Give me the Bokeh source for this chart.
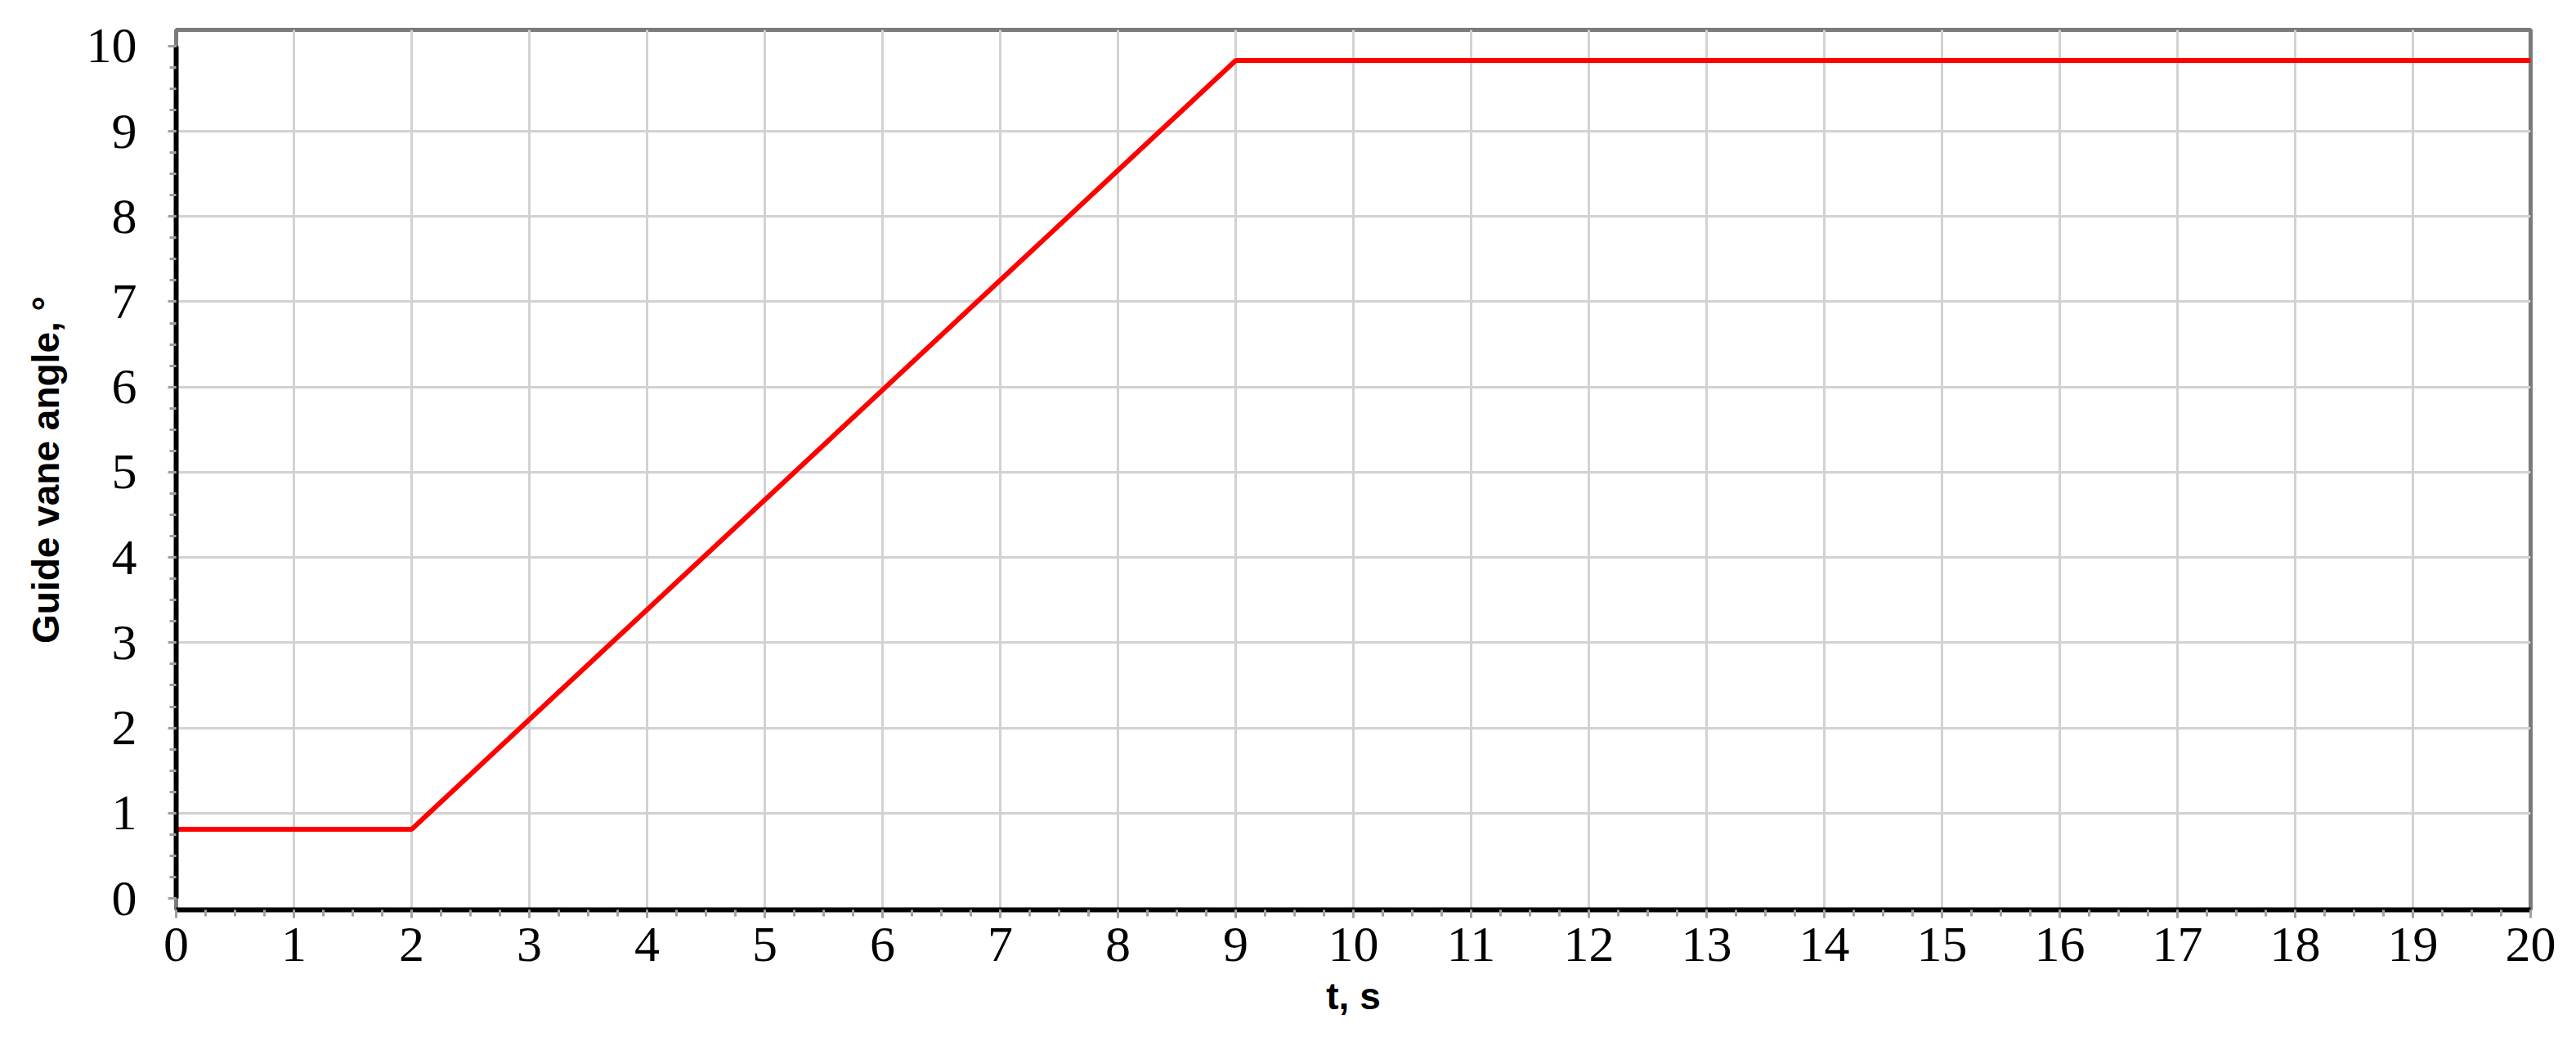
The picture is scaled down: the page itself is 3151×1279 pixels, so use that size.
from bokeh.plotting import figure
from bokeh.models import Range1d, FixedTicker
from bokeh.embed import file_html
from bokeh.resources import INLINE

# Data
t_s = [0, 2, 9, 20]
guide_vane_angle = [0.81, 0.81, 9.83, 9.83]

x_ticks = list(range(0, 21))
y_ticks = list(range(0, 11))
x_minor = [i * 0.25 for i in range(0, 81)]
y_minor = [i * 0.25 for i in range(0, 41)]

W, H = 3135, 1275
p = figure(width=W, height=H, output_backend="svg", toolbar_location=None,
           x_range=Range1d(0, 20), y_range=Range1d(-0.134, 10.19),
           min_border_left=215, min_border_right=W - 215 - 2880,
           min_border_top=36, min_border_bottom=H - 36 - 1076)

p.background_fill_color = "white"
p.border_fill_color = "white"
p.outline_line_color = "#7a7a7a"
p.outline_line_width = 5

p.line(t_s, guide_vane_angle, line_color="#ff0000", line_width=6)

for ax in (p.xaxis[0], p.yaxis[0]):
    ax.axis_line_color = "black"
    ax.axis_line_width = 6
    ax.major_tick_line_color = "#a0a0a0"
    ax.major_tick_line_width = 3
    ax.minor_tick_line_color = "#a0a0a0"
    ax.minor_tick_line_width = 3
    ax.major_tick_in = 0
    ax.major_tick_out = 10
    ax.minor_tick_in = 0
    ax.minor_tick_out = 8
    ax.major_label_text_font = "Liberation Serif"
    ax.major_label_text_font_size = "62px"
    ax.major_label_text_font_style = "normal"
    ax.major_label_text_color = "black"
    ax.axis_label_text_font = "Liberation Sans"
    ax.axis_label_text_font_size = "46px"
    ax.axis_label_text_font_style = "bold"
    ax.axis_label_text_color = "black"

p.xaxis[0].ticker = FixedTicker(ticks=x_ticks, minor_ticks=x_minor)
p.yaxis[0].ticker = FixedTicker(ticks=y_ticks, minor_ticks=y_minor)
p.xaxis[0].bounds = (0, 20)
p.yaxis[0].bounds = (0, 10)
p.xaxis[0].axis_label = "t, s"
p.yaxis[0].axis_label = "Guide vane angle, °"
p.xaxis[0].major_label_standoff = 12
p.yaxis[0].major_label_standoff = 38
p.xaxis[0].axis_label_standoff = 14
p.yaxis[0].axis_label_standoff = 21

p.xgrid[0].ticker = FixedTicker(ticks=list(range(1, 20)))
p.ygrid[0].ticker = FixedTicker(ticks=list(range(1, 10)))
for g in (p.xgrid[0], p.ygrid[0]):
    g.grid_line_color = "#d2d2d2"
    g.grid_line_width = 3

open("out.html", "w").write(file_html(p, INLINE))
